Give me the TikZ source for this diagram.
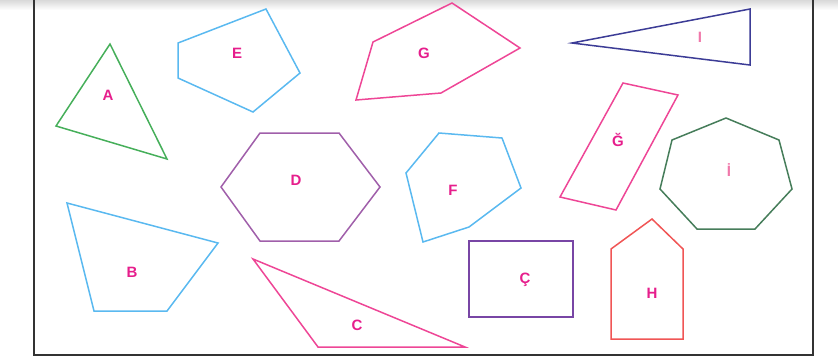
\documentclass[tikz,border=0pt]{standalone}
\usepackage{fontspec}
\setsansfont{Liberation Sans}
\usepackage{xcolor}
\usepackage{tikz}
\definecolor{shapeGreen}{RGB}{ 70,175, 90}
\definecolor{shapeBlue}{RGB}{ 90,185,240}
\definecolor{shapePink}{RGB}{238, 70,150}
\definecolor{shapeNavy}{RGB}{ 60, 60,150}
\definecolor{shapeLilac}{RGB}{160, 95,170}
\definecolor{shapePurple}{RGB}{120, 70,165}
\definecolor{shapeRed}{RGB}{240, 85, 85}
\definecolor{shapeDarkGreen}{RGB}{ 70,125, 90}
\definecolor{labelPink}{RGB}{230, 30,140}
\definecolor{labelLight}{RGB}{240,120,170}
\tikzstyle{s}=[line width=1.5pt,line join=miter]
\tikzstyle{l}=[text=labelPink,font=\sffamily\bfseries\fontsize{15}{15}\selectfont,inner sep=0pt]
\tikzstyle{frame}=[line width=1.6pt,draw=black!80]

\begin{document}
\begin{tikzpicture}[x=1pt,y=-1pt]
\useasboundingbox (0,0) rectangle (838,360);
\shade[top color=black!15,bottom color=white] (0,0) rectangle (838,10);

% Frame
\draw[frame] (34,0) -- (34,355) -- (813,355) -- (813,0);

% Shapes
\draw[s,shapeGreen]     (110,44) -- (167,159) -- (56,126) -- cycle;
\draw[s,shapeBlue]      (67,203) -- (218,243) -- (167,311) -- (94,311) -- cycle;
\draw[s,shapePink]      (253,259) -- (465,347) -- (318,347) -- cycle;
\draw[s,shapePurple]    (469,241) rectangle (573,317);
\draw[s,shapeLilac]     (260,133) -- (339,133) -- (380,187) -- (339,241) -- (260,241) -- (221,187) -- cycle;
\draw[s,shapeBlue]      (266,9) -- (300,73) -- (253,112) -- (178,78) -- (178,43) -- cycle;
\draw[s,shapeBlue]      (439,133) -- (502,138) -- (521,188) -- (469,227) -- (423,242) -- (406,173) -- cycle;
\draw[s,shapePink]      (452,3) -- (520,48) -- (441,93) -- (356,100) -- (373,42) -- cycle;
\draw[s,shapePink]      (623,83) -- (678,95) -- (616,210) -- (560,197) -- cycle;
\draw[s,shapeRed]       (652,219) -- (683,249) -- (683,339) -- (611,339) -- (611,249) -- cycle;
\draw[s,shapeNavy]      (572,43) -- (750,9) -- (750,65) -- cycle;
\draw[s,shapeDarkGreen] (726,118) -- (779,140) -- (792,189) -- (755,229) -- (697,229) -- (660,189) -- (672,140) -- cycle;

% Labels
\node[l] (lab A)  at (108,95)  {A};
\node[l] (lab B)  at (132,272) {B};
\node[l] (lab C)  at (357,325) {C};
\node[l] (lab Cc) at (525,280) {Ç};
\node[l] (lab D)  at (296,180) {D};
\node[l] (lab E)  at (237,53)  {E};
\node[l] (lab F)  at (453,190) {F};
\node[l] (lab G)  at (424,53)  {G};
\node[l] (lab Gg) at (618,140) {Ğ};
\node[l] (lab H)  at (652,293) {H};
\node[l,text=labelLight] (lab I)  at (700,37)  {I};
\node[l,text=labelLight] (lab Ii) at (729,170) {İ};

\end{tikzpicture}
\end{document}
